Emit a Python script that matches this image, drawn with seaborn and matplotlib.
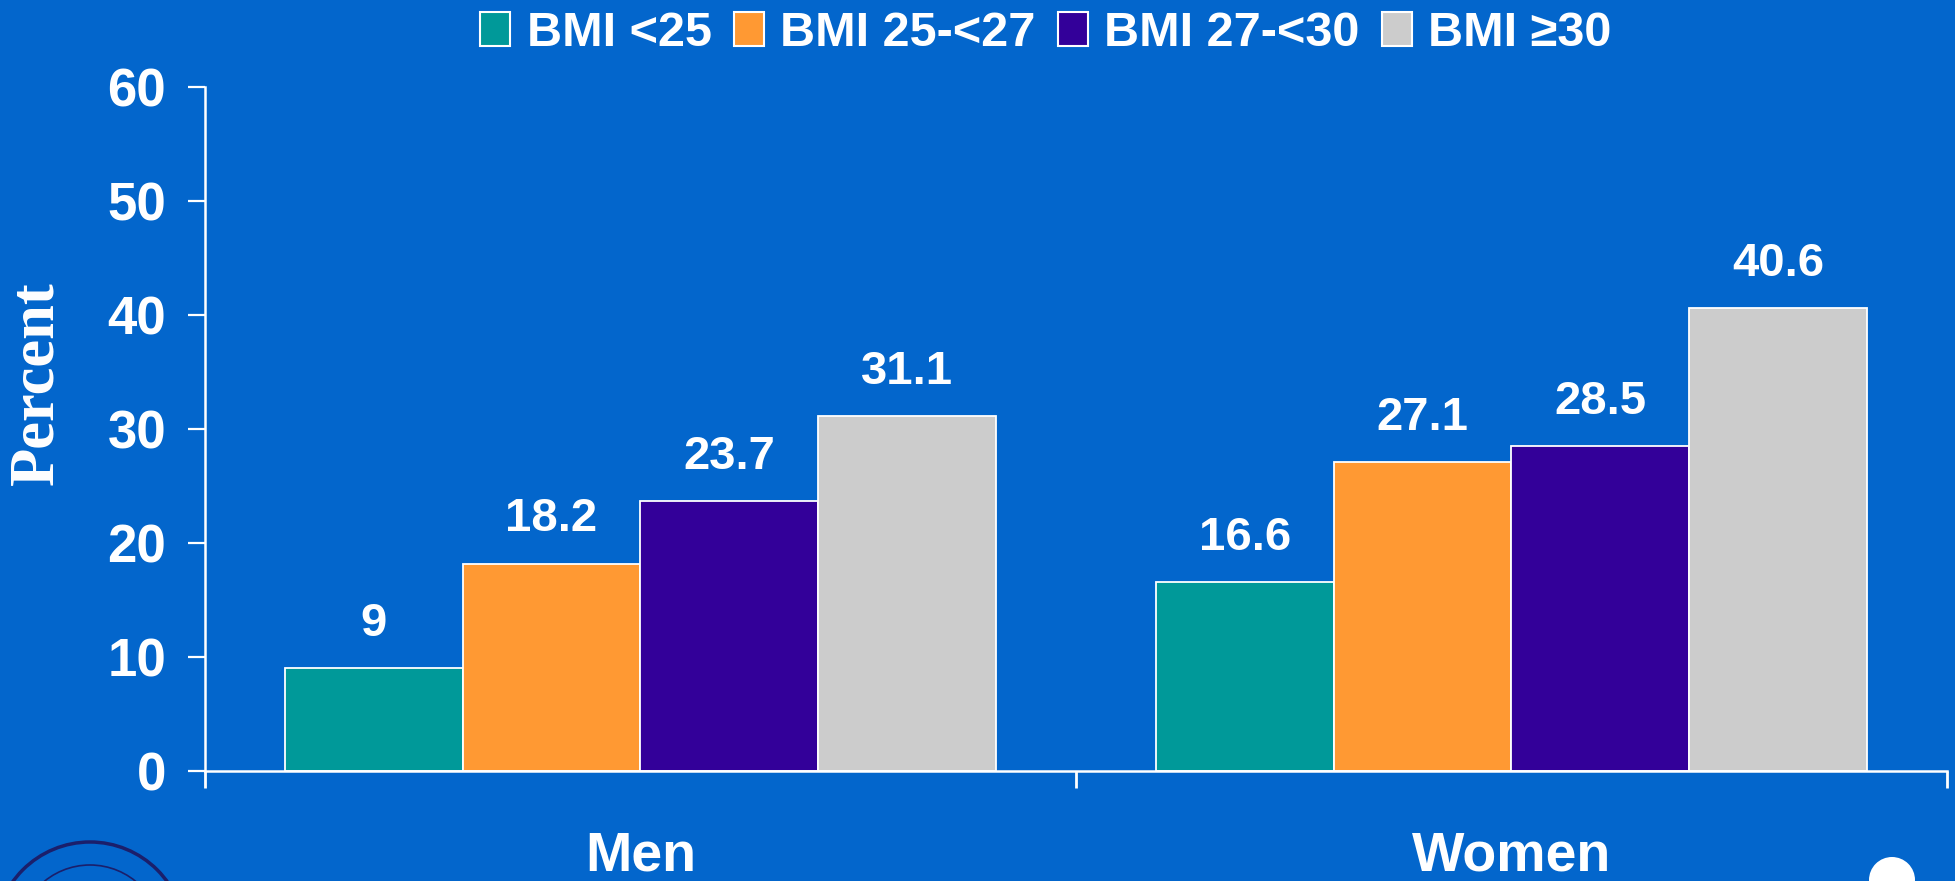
import matplotlib
matplotlib.use("Agg")
import matplotlib.pyplot as plt
import matplotlib.patches as mpatches
import seaborn as sns
import pandas as pd
import numpy as np

# ---- data ----
groups = ["Men", "Women"]
bmi_levels = ["BMI <25", "BMI 25-<27", "BMI 27-<30", "BMI \u226530"]
men_values = [9, 18.2, 23.7, 31.1]
women_values = [16.6, 27.1, 28.5, 40.6]
y_ticks = [0, 10, 20, 30, 40, 50, 60]
colors = ["#009999", "#FF9933", "#330099", "#CCCCCC"]

BG = "#0366CC"

df = pd.DataFrame({
    "group": [groups[0]] * 4 + [groups[1]] * 4,
    "bmi": bmi_levels * 2,
    "value": men_values + women_values,
})

sns.set_theme(style="white")
plt.rcParams["font.family"] = ["Liberation Sans", "DejaVu Sans"]
plt.rcParams["font.weight"] = "bold"

W, H, DPI = 1956, 881, 100
fig = plt.figure(figsize=(W / DPI, H / DPI), dpi=DPI, facecolor=BG)
ax = fig.add_axes([205 / W, 1 - 771 / H, (1947 - 205) / W, (771 - 87) / H])
ax.set_facecolor(BG)

sns.barplot(data=df, x="group", y="value", hue="bmi", order=groups,
            hue_order=bmi_levels, palette=colors, width=0.817,
            edgecolor="white", linewidth=1.3, saturation=1, ax=ax,
            legend=True)

for cont in ax.containers:
    ax.bar_label(cont, labels=[f"{v:g}" for v in cont.datavalues],
                 padding=16, color="white", fontsize=34, fontweight="bold")

ax.set_xlim(-0.5, 1.5)
ax.set_ylim(0, 60)
ax.set_yticks(y_ticks)
ax.set_yticklabels([str(t) for t in y_ticks], fontsize=38, fontweight="bold", color="white")
ax.tick_params(axis="y", length=12, width=1.6, color="white", pad=16, direction="out", left=True)

ax.set_xticks([0, 1])
ax.set_xticklabels(groups, fontsize=40, fontweight="bold", color="white")
ax.set_xticks([-0.5, 0.5, 1.5], minor=True)
ax.tick_params(axis="x", which="major", length=0, pad=43)
ax.tick_params(axis="x", which="minor", length=12, width=2, color="white", direction="out", bottom=True)

for s in ["top", "right"]:
    ax.spines[s].set_visible(False)
for s in ["left", "bottom"]:
    ax.spines[s].set_color("white")
    ax.spines[s].set_linewidth(1.8)

ax.set_xlabel("")
ax.set_ylabel("")
fig.text(37 / W, 1 - 383 / H, "Percent", family=["Liberation Serif", "DejaVu Serif"],
         fontsize=45, fontweight="bold", color="white", rotation=90,
         ha="center", va="center")

# legend
handles, labels = ax.get_legend_handles_labels()
if ax.get_legend() is not None:
    ax.get_legend().remove()
leg = fig.legend(handles, labels, loc="upper center", bbox_to_anchor=(1046 / W, 1 - 6 / H),
                 ncol=4, frameon=False, fontsize=35, handlelength=0.62,
                 handleheight=0.72, handletextpad=0.34, columnspacing=0.45,
                 borderaxespad=0.0, borderpad=0.1)
for t in leg.get_texts():
    t.set_color("white")
    t.set_fontweight("bold")
for h in leg.legend_handles:
    h.set_edgecolor("white")
    h.set_linewidth(1.5)

# decorations: seal at bottom-left and white dot at bottom-right
inch = fig.dpi_scale_trans
fig.patches.append(mpatches.Circle((90 / DPI, (H - 937) / DPI), 95 / DPI,
                                   transform=inch, fill=False, edgecolor="#1B1F6B", linewidth=2.5))
fig.patches.append(mpatches.Circle((90 / DPI, (H - 937) / DPI), 72 / DPI,
                                   transform=inch, fill=False, edgecolor="#1B1F6B", linewidth=1.2))
fig.patches.append(mpatches.Circle((1892 / DPI, (H - 880) / DPI), 23 / DPI,
                                   transform=inch, facecolor="white", edgecolor="none"))

fig.savefig("out.png", dpi=DPI, facecolor=BG)
